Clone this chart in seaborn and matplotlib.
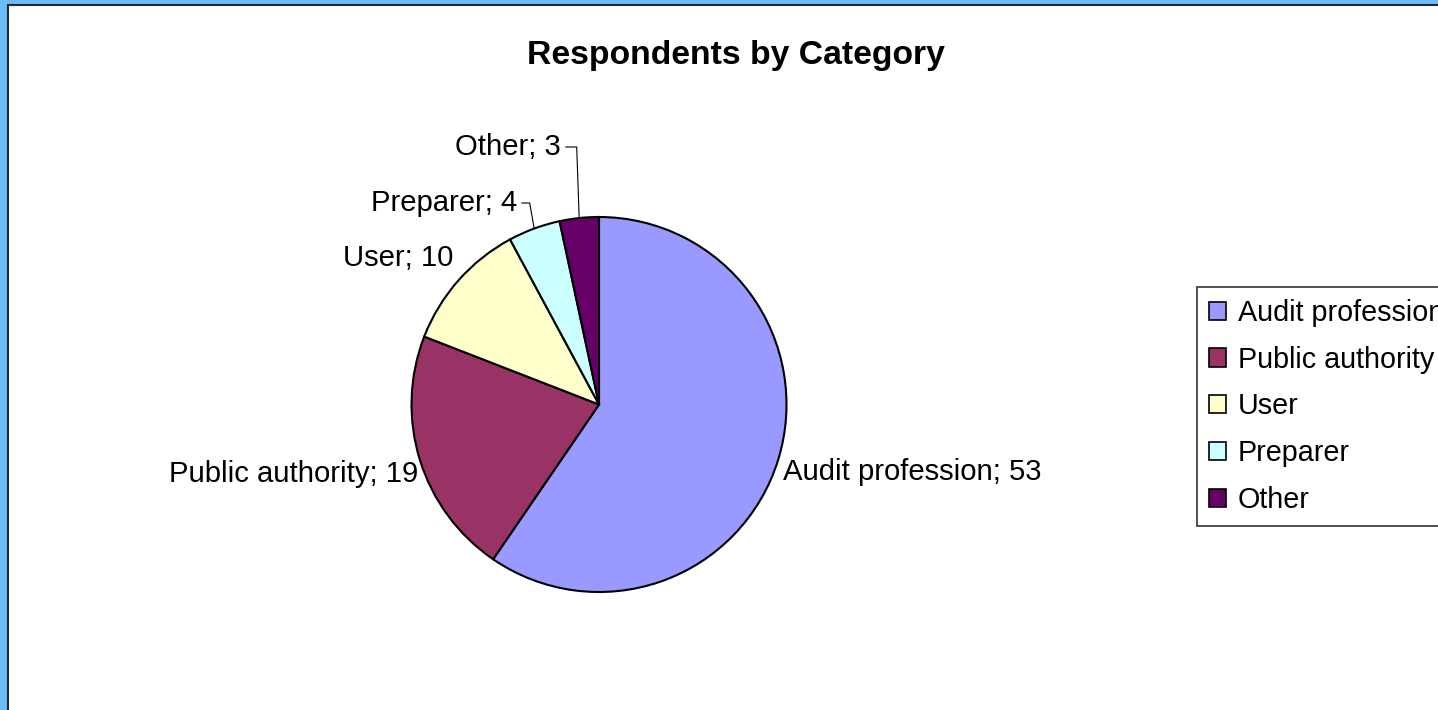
import matplotlib
matplotlib.use("Agg")
import matplotlib.pyplot as plt
import matplotlib.patches as mpatches
import numpy as np
import seaborn as sns

# ---- data ----
categories = ["Audit profession", "Public authority", "User", "Preparer", "Other"]
counts = [53, 19, 10, 4, 3]
colors = ["#9999FF", "#993366", "#FFFFCC", "#CCFFFF", "#660066"]
title = "Respondents by Category"

# ---- layout (pixels of the 1438x710 canvas) ----
W, H = 1438, 710
CX, CY, R = 599, 404.5, 187.5
# label anchor (pixel x, baseline pixel y, ha)
label_layout = [
    (783, 480, "left"),
    (418, 482, "right"),
    (453, 266, "right"),
    (517, 211, "right"),
    (561, 155, "right"),
]
leader_angleB = [None, None, None, 100, 92]

sns.set_theme(style="white")
plt.rcParams["font.family"] = ["Liberation Sans", "DejaVu Sans"]
plt.rcParams["text.color"] = "black"
plt.rcParams["legend.labelcolor"] = "black"

fig = plt.figure(figsize=(W / 100, H / 100), dpi=100)
fig.patch.set_facecolor("#69BDF2")

# white chart area with dark border (cropped at right/bottom)
frame = mpatches.Rectangle((7.5 / W, -0.1), 1.2, 1.1 - 4.5 / H,
                           transform=fig.transFigure, facecolor="white",
                           edgecolor="#1E2B33", linewidth=1.5, zorder=0)
fig.add_artist(frame)

lim = 1.05
side = 2 * lim * R
ax = fig.add_axes([(CX - side / 2) / W, (H - CY - side / 2) / H, side / W, side / H])
wedges, _ = ax.pie(counts, colors=colors, startangle=90, counterclock=False,
                   wedgeprops=dict(edgecolor="black", linewidth=1.5))
ax.set_xlim(-lim, lim)
ax.set_ylim(-lim, lim)
ax.set_facecolor("none")
ax.axis("off")

def to_data(px, py):
    return (px - CX) / R, (CY - py) / R

LFS = 21.1
for w, cat, val, (px, py, ha), angB in zip(wedges, categories, counts, label_layout, leader_angleB):
    tx, ty = to_data(px, py)
    text = f"{cat}; {val}"
    if angB is None:
        ax.text(tx, ty, text, ha=ha, va="baseline", fontsize=LFS, color="black")
    else:
        mid = np.deg2rad((w.theta1 + w.theta2) / 2)
        tip = (np.cos(mid), np.sin(mid))
        ax.annotate(text, xy=tip, xytext=(tx, ty), ha=ha, va="baseline",
                    fontsize=LFS, color="black",
                    arrowprops=dict(arrowstyle="-", color="black", lw=0.8,
                                    relpos=(1, 0.5), shrinkA=1, shrinkB=0,
                                    connectionstyle=f"angle,angleA=0,angleB={angB},rad=0"))

fig.text(736 / W, 1 - 64 / H, title, ha="center", va="baseline",
         fontsize=24.3, fontweight="bold", color="black")

handles = [mpatches.Patch(facecolor=c, edgecolor="black", linewidth=1.2, label=l)
           for c, l in zip(colors, categories)]
leg = fig.legend(handles=handles, loc="upper left",
                 bbox_to_anchor=(1197 / W, 1 - 287 / H), bbox_transform=fig.transFigure,
                 fontsize=20.7, frameon=True, fancybox=False, borderaxespad=0,
                 borderpad=0.42, labelspacing=0.65, handlelength=0.6, handleheight=0.6,
                 handletextpad=0.4, labelcolor="black")
leg.get_frame().set_edgecolor("black")
leg.get_frame().set_linewidth(1.2)
leg.get_frame().set_facecolor("white")

fig.savefig("out.png", dpi=100, facecolor=fig.get_facecolor())
